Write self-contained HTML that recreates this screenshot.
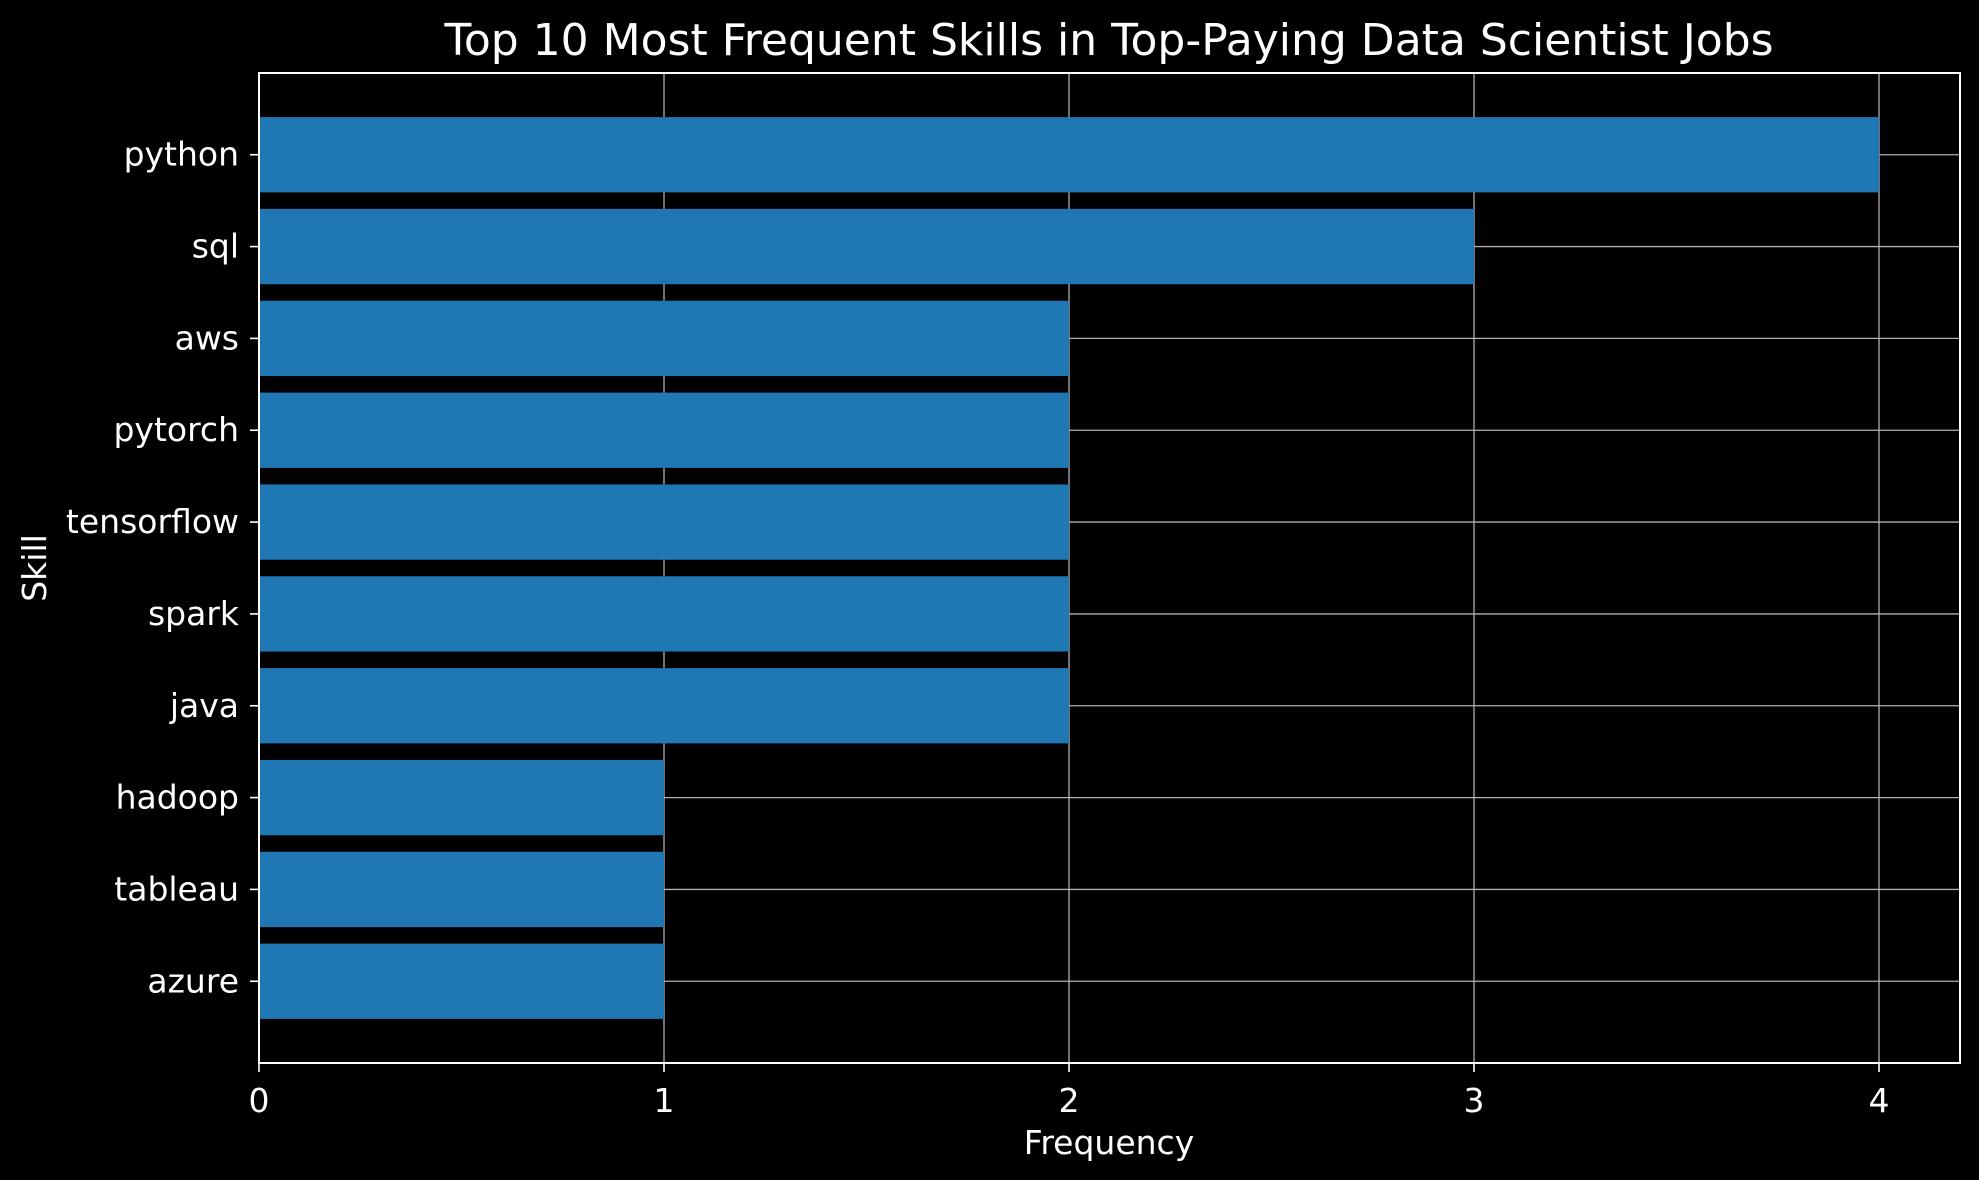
<!DOCTYPE html>
<html><head><meta charset="utf-8"><style>
body{margin:0;background:#000}
svg{display:block;font-family:"DejaVu Sans","Liberation Sans",sans-serif}
</style></head><body>
<svg id="chart" width="1979" height="1180" viewBox="0 0 1979 1180" xmlns="http://www.w3.org/2000/svg">
<rect width="1979" height="1180" fill="#000"/>
<text x="1109" y="55" fill="#fff" font-size="44" text-anchor="middle">Top 10 Most Frequent Skills in Top-Paying Data Scientist Jobs</text>
<text x="1109" y="1154" fill="#fff" font-size="33" text-anchor="middle">Frequency</text>
<text transform="translate(46,568) rotate(-90)" fill="#fff" font-size="33" text-anchor="middle">Skill</text>
<g id="grid"></g><g id="bars"></g><g id="axes"></g>
</svg>
<script>
const skills=["python","sql","aws","pytorch","tensorflow","spark","java","hadoop","tableau","azure"];
const counts=[4,3,2,2,2,2,2,1,1,1];
const xTicks=[0,1,2,3,4];
const L=259,R=1960,T=73,B=1063;
const xMax=Math.max(...counts)*1.05;
const n=skills.length;
const yMin=-0.4-(n-0.2)*0.05, yMax=n-1+0.4+(n-0.2)*0.05;
const xs=v=>L+(v/xMax)*(R-L);
const ys=i=>T+(i-yMin)/(yMax-yMin)*(B-T);
const NS="http://www.w3.org/2000/svg";
function mk(t,a,p){const e=document.createElementNS(NS,t);for(const k in a)e.setAttribute(k,a[k]);document.getElementById(p).appendChild(e);return e;}
xTicks.forEach(v=>{
 const g=mk('line',{x1:xs(v),x2:xs(v),y1:T,y2:B,stroke:'#b0b0b0','stroke-width':1.3},'grid');
 
 
 const t=mk('line',{x1:xs(v),x2:xs(v),y1:B,y2:B+9,stroke:'#fff','stroke-width':1.6},'axes');
 
 
 const l=mk('text',{x:xs(v),y:B+49,fill:'#fff','font-size':33,'text-anchor':'middle'},'axes');
 l.textContent=v;
 
 
});
const bh=(ys(0.82)-ys(0));
skills.forEach((s,i)=>{
 const g=mk('line',{x1:L,x2:R,y1:ys(i),y2:ys(i),stroke:'#b0b0b0','stroke-width':1.3},'grid');
 
 
 const b=mk('rect',{x:L,y:ys(i)-bh/2,width:xs(counts[i])-L,height:bh,fill:'#1f77b4'},'bars');
 
 
 const t=mk('line',{x1:L-9,x2:L,y1:ys(i),y2:ys(i),stroke:'#fff','stroke-width':1.6},'axes');
 
 
 const l=mk('text',{x:L-20,y:ys(i)+11,fill:'#fff','font-size':33,'text-anchor':'end'},'axes');
 l.textContent=s;
 
 
});
const f=mk('rect',{x:L,y:T,width:R-L,height:B-T,fill:'none',stroke:'#fff','stroke-width':2},'axes');


</script>
</body></html>
